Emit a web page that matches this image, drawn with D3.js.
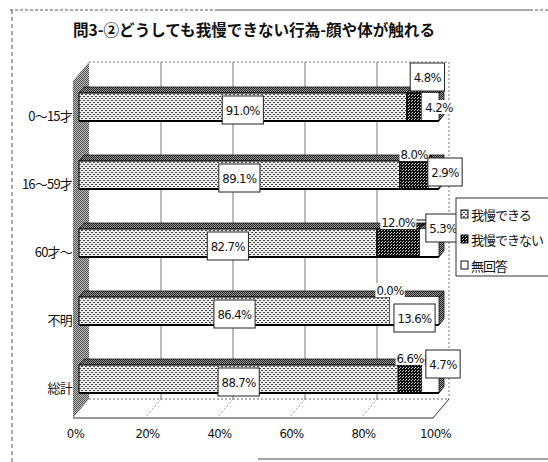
<!DOCTYPE html>
<html>
<head>
<meta charset="utf-8">
<script src="https://cdn.jsdelivr.net/npm/d3@7"></script>
<style>
  html, body { margin: 0; padding: 0; background: #fff; }
  svg { display: block; }
  .num { font-family: "Liberation Sans Narrow", "DejaVu Sans Condensed", "Liberation Sans", sans-serif; font-size: 13px; fill: #111; letter-spacing: -0.6px; }
  .jp { font-family: "Noto Sans CJK JP", sans-serif; fill: #111; }
</style>
</head>
<body>
<svg id="chart" width="548" height="462"></svg>
<script>
// ---- data ----
const chartTitle = "問3-②どうしても我慢できない行為-顔や体が触れる";
const categories = ["0～15才", "16～59才", "60才～", "不明", "総計"];
const seriesNames = ["我慢できる", "我慢できない", "無回答"];
const canValues = [91.0, 89.1, 82.7, 86.4, 88.7];
const cannotValues = [4.2, 8.0, 12.0, 0.0, 6.6];
const noAnswerValues = [4.8, 2.9, 5.3, 13.6, 4.7];
const tickValues = [0, 20, 40, 60, 80, 100];

// where the outer labels sit relative to their segment
const cannotLabelSpot = ["right", "above", "above", "above", "above"];
const noAnswerLabelSpot = ["above", "right", "upperRight", "inside", "upperRight"];

// ---- layout ----
const svg = d3.select("#chart");
const depthX = 16, depthY = -19;          // floor depth offset
const floorFront = 418, wallTop = 62;
const xa = d3.scaleLinear().domain([0, 100]).range([73, 433]);   // front axis
const xg = v => xa(v) + depthX;                                   // back wall
const xb = d3.scaleLinear().domain([0, 100]).range([79, 439]);    // bar fronts
const yb = d3.scaleBand().domain(categories).range([93, 393]).paddingInner(40 / 68).paddingOuter(0);
const barDX = 5, barDY = -6;
const fmt = d3.format(".1f");

// ---- fill patterns ----
const defs = svg.append("defs");
function pattern(id, size, bg, dots, dotColor) {
  const p = defs.append("pattern").attr("id", id).attr("patternUnits", "userSpaceOnUse")
    .attr("width", size).attr("height", size);
  p.append("rect").attr("width", size).attr("height", size).attr("fill", bg);
  dots.forEach(([x, y]) => p.append("rect").attr("x", x).attr("y", y).attr("width", 1).attr("height", 1).attr("fill", dotColor));
}
pattern("pLight", 4, "#eee", [[0, 0], [2, 2], [3, 0], [1, 2]], "#444");
pattern("pTop", 2, "#999", [[0, 0], [1, 1]], "#222");
pattern("pDark", 3, "#111", [[1, 1], [0, 2]], "#ccc");
pattern("pWall", 2, "#bbb", [[0, 0], [1, 1]], "#555");
const segFill = ["url(#pLight)", "url(#pDark)", "#fff"];
const segTopFill = ["url(#pTop)", "url(#pDark)", "url(#pTop)"];
const segStroke = ["#111", "#111", "none"];

svg.append("rect").attr("width", 548).attr("height", 462).attr("fill", "#fff");

// ---- outer frame (dashed) ----
const frame = svg.append("g").attr("stroke", "#555").attr("fill", "none");
frame.append("line").attr("x1", 10).attr("y1", 10).attr("x2", 215).attr("y2", 10).attr("stroke-dasharray", "3,2");
frame.append("line").attr("x1", 215).attr("y1", 10).attr("x2", 530).attr("y2", 10);
frame.append("line").attr("x1", 530).attr("y1", 10).attr("x2", 548).attr("y2", 10).attr("stroke-dasharray", "3,2");
frame.append("line").attr("x1", 12).attr("y1", 10).attr("x2", 12).attr("y2", 462).attr("stroke-dasharray", "4,3");
frame.append("line").attr("x1", 258).attr("y1", 459).attr("x2", 548).attr("y2", 459).attr("stroke", "#444");

// ---- title ----
svg.append("text").attr("class", "jp")
  .attr("x", 73).attr("y", 36)
  .attr("font-size", 16).attr("font-weight", 700)
  .attr("textLength", 362).attr("lengthAdjust", "spacingAndGlyphs")
  .text(chartTitle);

// ---- 3D walls and floor ----
const walls = svg.append("g");
walls.append("rect").attr("x", xg(0)).attr("y", wallTop).attr("width", xg(100) - xg(0)).attr("height", floorFront + depthY - wallTop).attr("fill", "#fff");
walls.append("line").attr("x1", xg(0)).attr("y1", wallTop).attr("x2", xg(100)).attr("y2", wallTop)
  .attr("stroke", "#777").attr("stroke-dasharray", "2,2");
walls.append("line").attr("x1", xg(100)).attr("y1", wallTop).attr("x2", xg(100)).attr("y2", floorFront + depthY)
  .attr("stroke", "#777").attr("stroke-dasharray", "2,2");
walls.append("line").attr("x1", xg(0)).attr("y1", floorFront + depthY).attr("x2", xg(100)).attr("y2", floorFront + depthY)
  .attr("stroke", "#666").attr("stroke-dasharray", "2,2");
walls.append("polygon")
  .attr("points", [[xa(0), wallTop - depthY], [xg(0), wallTop], [xg(0), floorFront + depthY], [xa(0), floorFront]].join(" "))
  .attr("fill", "url(#pWall)");
walls.append("line").attr("x1", xa(0)).attr("y1", floorFront).attr("x2", xa(100)).attr("y2", floorFront).attr("stroke", "#333");
walls.append("line").attr("x1", xa(100)).attr("y1", floorFront).attr("x2", xg(100)).attr("y2", floorFront + depthY).attr("stroke", "#333");

// gridlines on the back wall and across the floor
const grid = svg.append("g");
tickValues.slice(1, -1).forEach(t => {
  grid.append("line").attr("x1", xg(t)).attr("y1", wallTop).attr("x2", xg(t)).attr("y2", floorFront + depthY).attr("stroke", "#777");
  grid.append("line").attr("x1", xg(t)).attr("y1", floorFront + depthY).attr("x2", xa(t)).attr("y2", floorFront)
    .attr("stroke", "#999").attr("stroke-dasharray", "2,2");
});

// ---- bars ----
const rows = categories.map((c, i) => {
  const vals = [canValues[i], cannotValues[i], noAnswerValues[i]];
  let acc = 0;
  const segs = vals.map((v, k) => { const s = { k, v, x0: acc, x1: acc + v }; acc += v; return s; });
  return { c, i, segs };
});

const bars = svg.append("g");
rows.forEach(r => {
  const top = yb(r.c), h = yb.bandwidth();
  const g = bars.append("g");
  r.segs.filter(s => s.v > 0).forEach(s => {
    const x0 = xb(s.x0), x1 = xb(s.x1);
    g.append("polygon")
      .attr("points", [[x0, top], [x1, top], [x1 + barDX, top + barDY], [x0 + barDX, top + barDY]].join(" "))
      .attr("fill", segTopFill[s.k]).attr("stroke", "#111").attr("stroke-width", 0.8);
    g.append("rect").attr("x", x0).attr("y", top).attr("width", x1 - x0).attr("height", h)
      .attr("fill", segFill[s.k]).attr("stroke", segStroke[s.k]).attr("stroke-width", 1.2);
  });
  const end = xb(100);
  g.append("polygon")
    .attr("points", [[end, top], [end + barDX, top + barDY], [end + barDX, top + barDY + h], [end, top + h]].join(" "))
    .attr("fill", "url(#pTop)").attr("stroke", "#111").attr("stroke-width", 0.8);
  // heavier bottom edge
  g.append("line").attr("x1", xb(0)).attr("y1", top + h).attr("x2", end).attr("y2", top + h)
    .attr("stroke", "#000").attr("stroke-width", 2);
});

// ---- category labels ----
svg.append("g").selectAll("text").data(categories).join("text")
  .attr("class", "jp").attr("font-size", 13).attr("letter-spacing", "-0.8px")
  .attr("x", 72).attr("y", d => yb(d) + yb.bandwidth() / 2 + 8)
  .attr("text-anchor", "end").attr("dominant-baseline", "central")
  .text(d => d);

// ---- x axis ----
const axis = svg.append("g").attr("transform", `translate(2,${floorFront})`)
  .call(d3.axisBottom(xa).tickValues(tickValues).tickFormat(d => d + "%").tickSize(0).tickPadding(11));
axis.select(".domain").remove();
axis.selectAll("text").attr("class", "num").attr("font-size", null).attr("font-family", null).attr("fill", null);

// ---- value labels ----
const labels = svg.append("g");
function boxedLabel(x, y, txt) {
  const g = labels.append("g");
  const t = g.append("text").attr("class", "num").attr("x", x).attr("y", y)
    .attr("text-anchor", "middle").attr("dominant-baseline", "central").text(txt);
  const w = t.node().getComputedTextLength() + 7, h = 28;
  g.insert("rect", "text").attr("x", x - w / 2).attr("y", y - h / 2).attr("width", w).attr("height", h)
    .attr("fill", "#fff").attr("stroke", "#222");
  return { left: x - w / 2, right: x + w / 2 };
}
function plainLabel(x, y, txt) {
  const g = labels.append("g");
  const t = g.append("text").attr("class", "num").attr("x", x).attr("y", y)
    .attr("text-anchor", "middle").attr("dominant-baseline", "central").text(txt);
  const w = t.node().getComputedTextLength();
  g.insert("rect", "text").attr("x", x - w / 2 - 1).attr("y", y - 7).attr("width", w + 2).attr("height", 14)
    .attr("fill", "#fff");
  return { left: x - w / 2, right: x + w / 2 };
}

rows.forEach(r => {
  const top = yb(r.c), h = yb.bandwidth(), mid = top + h / 2;
  const [can, cannot, none] = r.segs;

  // 我慢できる: boxed, centred on its segment
  boxedLabel((xb(can.x0) + xb(can.x1)) / 2, mid + 3, fmt(can.v) + "%");

  // 我慢できない
  const cSpot = cannotLabelSpot[r.i];
  const cCenter = (xb(cannot.x0) + xb(cannot.x1)) / 2;
  let cLab, cY;
  if (cSpot === "right") { cY = mid; cLab = plainLabel(xb(100), cY, fmt(cannot.v) + "%"); }
  else { cY = top - 7; cLab = plainLabel(cCenter, cY, fmt(cannot.v) + "%"); }

  // 無回答: boxed
  const nSpot = noAnswerLabelSpot[r.i];
  const nCenter = (xb(none.x0) + xb(none.x1)) / 2;
  let nb;
  if (nSpot === "above") nb = boxedLabel(nCenter - 3, top - 16, fmt(none.v) + "%");
  else if (nSpot === "right") nb = boxedLabel(xb(100) + 6, mid - 3, fmt(none.v) + "%");
  else if (nSpot === "upperRight") nb = boxedLabel(xb(100) + 4, top - 1, fmt(none.v) + "%");
  else nb = boxedLabel(nCenter, mid + 7, fmt(none.v) + "%");

  // short leader from the detached label over to the box
  if (cSpot === "above" && nb.left > cLab.right + 1) {
    labels.append("line").attr("x1", cLab.right + 1).attr("y1", cY - 2).attr("x2", nb.left).attr("y2", cY - 2)
      .attr("stroke", "#111").attr("stroke-width", 1);
    labels.append("line").attr("x1", cLab.right + 2).attr("y1", cY + 2).attr("x2", nb.left).attr("y2", cY + 2)
      .attr("stroke", "#111").attr("stroke-width", 1);
  }
});

// ---- legend ----
const legend = svg.append("g");
legend.append("rect").attr("x", 456).attr("y", 198).attr("width", 100).attr("height", 78)
  .attr("fill", "#fff").attr("stroke", "#333");
const legendY = [214, 239, 265];
seriesNames.forEach((name, k) => {
  legend.append("rect").attr("x", 461).attr("y", legendY[k] - 4).attr("width", 7).attr("height", 8)
    .attr("fill", segFill[k]).attr("stroke", "#111");
  legend.append("text").attr("class", "jp").attr("font-size", 13).attr("letter-spacing", "-1px")
    .attr("x", 471).attr("y", legendY[k]).attr("dominant-baseline", "central").text(name);
});
</script>
</body>
</html>
